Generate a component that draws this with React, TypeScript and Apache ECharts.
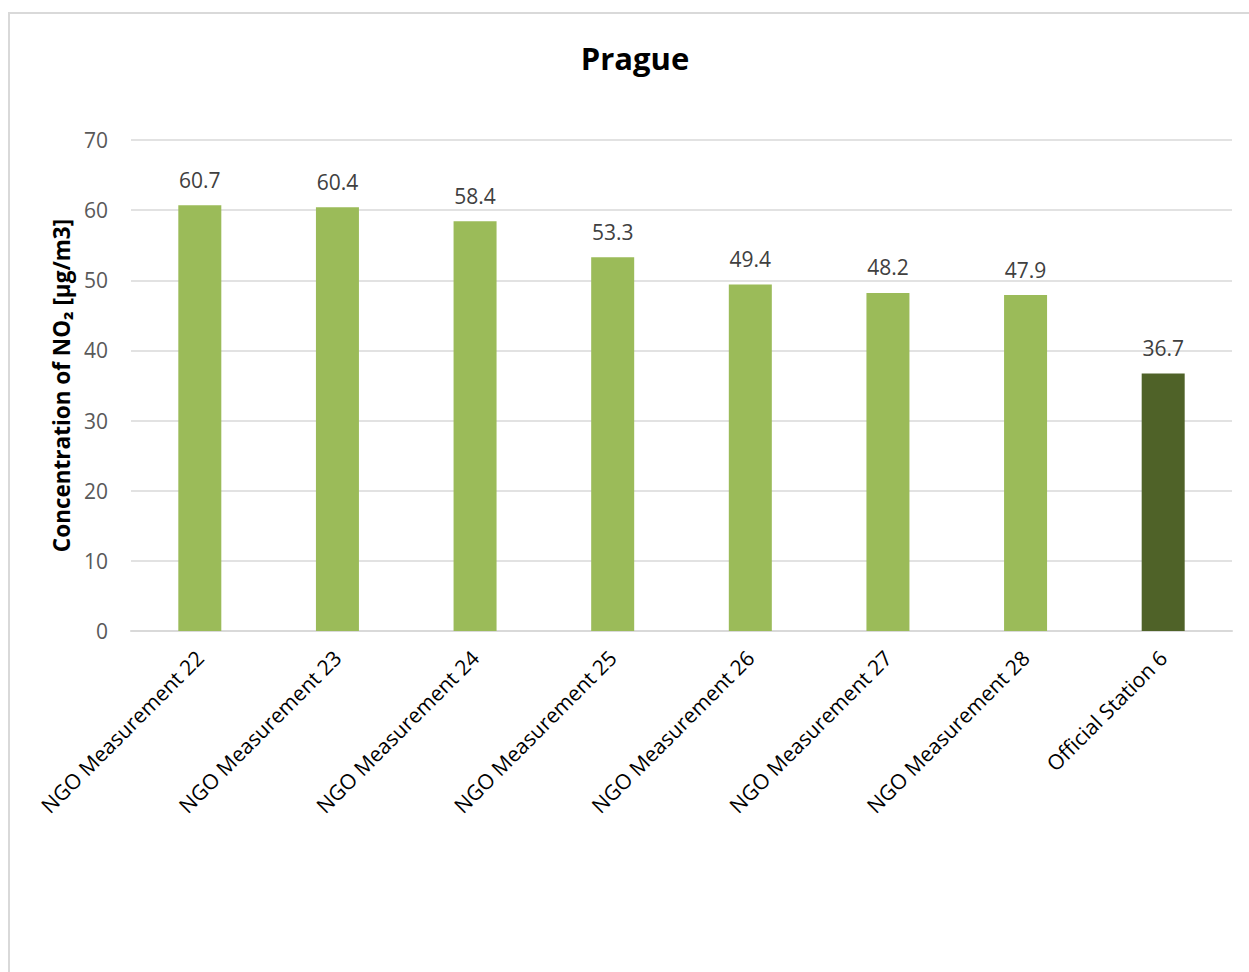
import React, { useEffect, useRef } from "react";
import * as echarts from "echarts";

const categories = [
  "NGO Measurement 22",
  "NGO Measurement 23",
  "NGO Measurement 24",
  "NGO Measurement 25",
  "NGO Measurement 26",
  "NGO Measurement 27",
  "NGO Measurement 28",
  "Official Station 6",
];
const values = [60.7, 60.4, 58.4, 53.3, 49.4, 48.2, 47.9, 36.7];
const kinds = ["ngo", "ngo", "ngo", "ngo", "ngo", "ngo", "ngo", "official"];
const yTicks = [0, 10, 20, 30, 40, 50, 60, 70];

const kindColor: Record<string, string> = { ngo: "#9BBB59", official: "#4F6228" };
const FONT = "'Open Sans', 'DejaVu Sans', sans-serif";

export default function App() {
  const ref = useRef<HTMLDivElement>(null);
  useEffect(() => {
    if (!ref.current) return;
    const chart = echarts.init(ref.current, null, { renderer: "svg" });
    chart.setOption({
      animation: false,
      backgroundColor: "#ffffff",
      textStyle: { fontFamily: FONT },
      title: {
        text: "Prague",
        left: 630,
        textAlign: "center",
        top: 37,
        textStyle: { fontFamily: FONT, fontSize: 31, fontWeight: "bold", color: "#000000" },
      },
      graphic: [
        {
          type: "rect",
          shape: { x: 9, y: 13, width: 1300, height: 1000 },
          style: { fill: "none", stroke: "#d9d9d9", lineWidth: 2 },
          silent: true,
        },
      ],
      grid: { left: 131, right: 17, top: 140, bottom: 341 },
      xAxis: {
        type: "category",
        data: categories,
        axisLine: { show: true, lineStyle: { color: "#d9d9d9", width: 2 } },
        axisTick: { show: false },
        axisLabel: {
          rotate: 45,
          interval: 0,
          margin: 23,
          fontFamily: FONT,
          fontSize: 21,
          color: "#000000",
        },
      },
      yAxis: {
        type: "value",
        min: yTicks[0],
        max: yTicks[yTicks.length - 1],
        interval: 10,
        name: "Concentration of NO\u2082 [\u00b5g/m3]",
        nameLocation: "middle",
        nameGap: 56,
        nameTextStyle: { fontFamily: FONT, fontSize: 22.5, fontWeight: "bold", color: "#000000" },
        axisLine: { show: false },
        axisTick: { show: false },
        axisLabel: { margin: 23, fontFamily: FONT, fontSize: 21, color: "#595959" },
        splitLine: { lineStyle: { color: "#d9d9d9", width: 1.5 } },
      },
      series: [
        {
          type: "bar",
          barWidth: 43,
          data: values.map((v, i) => ({ value: v, itemStyle: { color: kindColor[kinds[i]] } })),
          label: {
            show: true,
            position: "top",
            distance: 15,
            fontFamily: FONT,
            fontSize: 21,
            color: "#404040",
            formatter: (p: any) => Number(p.value).toFixed(1),
          },
        },
      ],
    });
    return () => chart.dispose();
  }, []);
  return (
    <div
      ref={ref}
      style={{ position: "absolute", left: 0, top: 0, width: 1249, height: 972 }}
    />
  );
}
